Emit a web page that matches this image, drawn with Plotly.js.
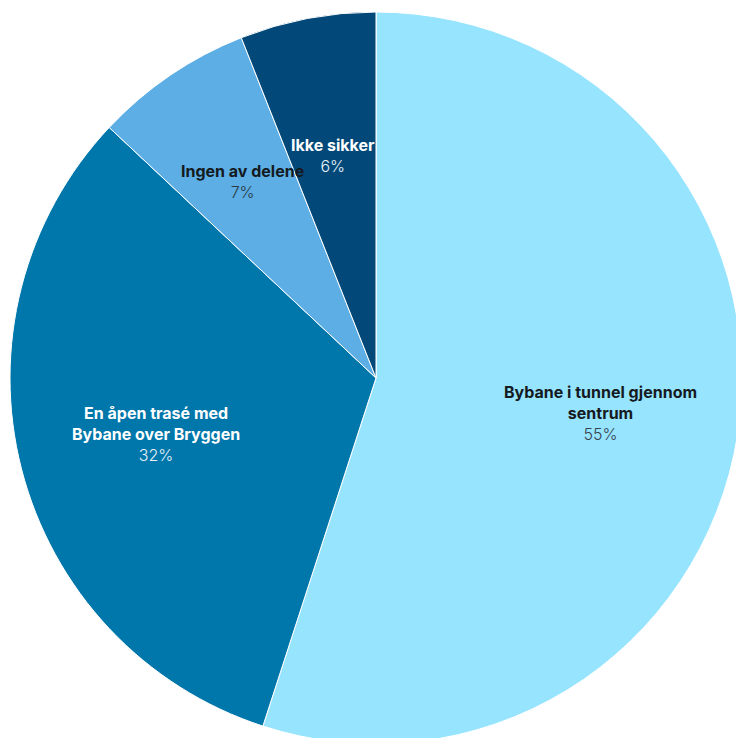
<!DOCTYPE html>
<html>
<head>
<meta charset="utf-8">
<script src="https://cdn.plot.ly/plotly-3.0.1.min.js"></script>
<style>
html,body{margin:0;padding:0;overflow:hidden;background:#fff;}
#chart{position:absolute;left:0;top:0;}
</style>
</head>
<body>
<div id="chart"></div>
<script>
const categories = ["Bybane i tunnel gjennom sentrum", "En åpen trasé med Bybane over Bryggen", "Ingen av delene", "Ikke sikker"];
const displayLabels = ["Bybane i tunnel gjennom<br>sentrum", "En åpen trasé med<br>Bybane over Bryggen", "Ingen av delene", "Ikke sikker"];
const values = [55, 32, 7, 6];
const colors = ["#97E4FF", "#0077AB", "#5CAEE5", "#02497A"];
const textColors = ["#141a1e", "#ffffff", "#141a1e", "#ffffff"];
const pctColors = ["#34434d", "#e6f1f8", "#2c3a44", "#e6f1f8"];
const labelRadius = [0.62, 0.62, 0.65, 0.62];

const W = 752, H = 756;
const R = 366; // pie radius in px (domain 732px square)
const total = values.reduce((a, b) => a + b, 0);

const annotations = [];
let acc = 0;
values.forEach((v, i) => {
  const mid = (acc + v / 2) / total * 2 * Math.PI; // clockwise from 12 o'clock
  acc += v;
  const d = labelRadius[i] * R;
  annotations.push({
    xref: "paper", yref: "paper",
    x: 0.5 + d * Math.sin(mid) / W,
    y: 0.5 + d * Math.cos(mid) / H,
    xanchor: "center", yanchor: "middle",
    showarrow: false,
    align: "center",
    text: "<b>" + displayLabels[i] + "</b><br><span style='color:" + pctColors[i] + ";font-weight:300'>" + v + "%</span>",
    font: {family: "Inter, 'Open Sans', sans-serif", size: 16, color: textColors[i]}
  });
});

const data = [{
  type: "pie",
  labels: categories,
  values: values,
  textinfo: "none",
  sort: false,
  direction: "clockwise",
  rotation: 0,
  marker: {colors: colors, line: {color: "#ffffff", width: 1}},
  hoverinfo: "none",
  domain: {x: [10 / W, 1 - 10 / W], y: [12 / H, 1 - 12 / H]}
}];
const layout = {
  width: W, height: H,
  margin: {l: 0, r: 0, t: 0, b: 0},
  showlegend: false,
  paper_bgcolor: "#ffffff",
  annotations: annotations
};
Plotly.newPlot("chart", data, layout, {displayModeBar: false, staticPlot: true});
</script>
</body>
</html>
